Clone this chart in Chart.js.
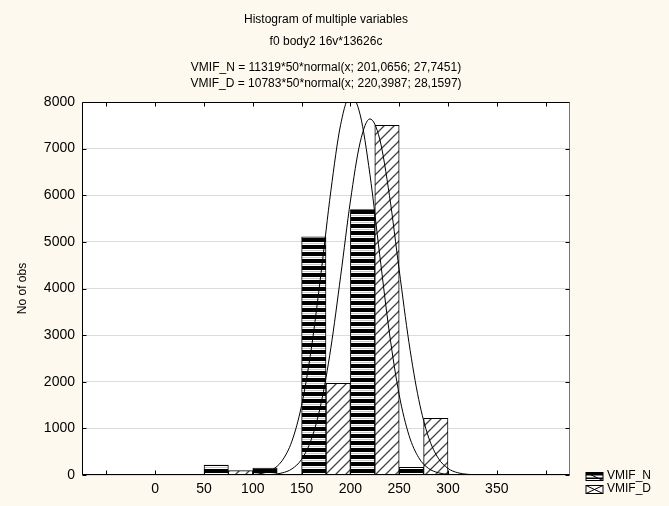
<!DOCTYPE html>
<html><head><meta charset="utf-8">
<script src="https://cdn.jsdelivr.net/npm/chart.js@4.4.1/dist/chart.umd.min.js"></script>
<style>html,body{margin:0;padding:0;background:#FDF9EE;}canvas{display:block;}</style>
</head><body>
<canvas id="c" width="669" height="506"></canvas>
<script>
// ---- data ----
const binCenters = [-25, 25, 75, 125, 175, 225, 275, 325, 375];
const vmifN = [0, 0, 214, 150, 5107, 5693, 164, 0, 8];
const vmifD = [0, 0, 93, 10, 1965, 7500, 1214, 0, 0];
const curveX = [-75, 80, 90, 100, 110, 120, 130, 140, 150, 160, 170, 180, 190, 200, 210, 220, 230, 240, 250, 260, 270, 280, 290, 300, 310, 320, 330, 340, 425];
const curveN = [0, 1, 3, 11, 37, 114, 306, 721, 1494, 2717, 4344, 6096, 7515, 8132, 7727, 6449, 4725, 3042, 1719, 853, 371, 142, 48, 14, 4, 1, 0, 0, 0];
const curveD = [0, 0, 0, 1, 3, 13, 44, 130, 336, 766, 1539, 2729, 4264, 5875, 7136, 7637, 7207, 5995, 4397, 2842, 1620, 814, 361, 141, 48, 15, 4, 1, 0];
const xTickValues = [-50, 0, 50, 100, 150, 200, 250, 300, 350, 400];
const xTickLabels = ['0', '50', '100', '150', '200', '250', '300', '350'];
const yTickValues = [0, 1000, 2000, 3000, 4000, 5000, 6000, 7000, 8000];
const seriesNames = ['VMIF_N', 'VMIF_D'];
const titleLines = ['Histogram of multiple variables', 'f0 body2 16v*13626c'];
const subtitleLines = ['VMIF_N = 11319*50*normal(x; 201,0656; 27,7451)', 'VMIF_D = 10783*50*normal(x; 220,3987; 28,1597)'];

const FONT = 'Arial, "Liberation Sans", sans-serif';

function stripePattern(){
  const c = document.createElement('canvas'); c.width = 4; c.height = 7;
  const g = c.getContext('2d');
  g.fillStyle = '#fff'; g.fillRect(0,0,4,7);
  g.fillStyle = '#000'; g.fillRect(0,0,4,4);
  g.fillStyle = '#c8c8c8'; g.fillRect(0,5,4,1);
  return g.createPattern(c, 'repeat');
}
function hatchPattern(){
  const s = 10;
  const c = document.createElement('canvas'); c.width = s; c.height = s;
  const g = c.getContext('2d');
  g.fillStyle = '#fff'; g.fillRect(0,0,s,s);
  g.strokeStyle = '#444'; g.lineWidth = 1.3;
  g.beginPath();
  g.moveTo(0,s); g.lineTo(s,0);
  g.moveTo(-2,2); g.lineTo(2,-2);
  g.moveTo(s-2,s+2); g.lineTo(s+2,s-2);
  g.stroke();
  return g.createPattern(c, 'repeat');
}

const bgPlugin = {
  id: 'bg',
  beforeDraw(chart){
    const {ctx, chartArea:a} = chart;
    ctx.save();
    ctx.fillStyle = '#FDF9EE'; ctx.fillRect(0,0,chart.width,chart.height);
    ctx.fillStyle = '#fff'; ctx.fillRect(a.left, a.top, a.right-a.left, a.bottom-a.top);
    ctx.restore();
  }
};

const framePlugin = {
  id: 'frame',
  afterDraw(chart){
    const {ctx, chartArea:a, scales} = chart;
    ctx.save();
    ctx.lineWidth = 1;
    ctx.strokeStyle = '#000';
    const L = Math.round(a.left)+0.5, R = Math.round(a.right)-0.5, T = Math.round(a.top)+0.5, B = Math.round(a.bottom)-0.5;
    ctx.beginPath();
    ctx.moveTo(R,T); ctx.lineTo(L,T); ctx.lineTo(L,B); ctx.lineTo(R,B);
    ctx.stroke();
    ctx.strokeStyle = '#777';
    ctx.beginPath(); ctx.moveTo(R,T); ctx.lineTo(R,B); ctx.stroke();
    ctx.strokeStyle = '#000';
    ctx.beginPath();
    scales.x.ticks.forEach(t => {
      const px = Math.round(scales.x.getPixelForValue(t.value))+0.5;
      ctx.moveTo(px,B); ctx.lineTo(px,B-4);
      ctx.moveTo(px,T); ctx.lineTo(px,T+4);
    });
    scales.y.ticks.forEach(t => {
      const py = Math.round(scales.y.getPixelForValue(t.value))+0.5;
      ctx.moveTo(L,py); ctx.lineTo(L+4,py);
      ctx.moveTo(R,py); ctx.lineTo(R-4,py);
    });
    ctx.stroke();
    // legend
    const lx = a.right + 16, ly0 = a.bottom + 1, gap = 13;
    ctx.font = '12px ' + FONT;
    ctx.textBaseline = 'middle';
    ctx.textAlign = 'left';
    seriesNames.forEach((name, i) => {
      const y = ly0 + i*gap;
      const bx = lx, by = Math.round(y - 4)+0.5, bw = 17, bh = 8;
      ctx.fillStyle = '#fff'; ctx.fillRect(bx, by, bw, bh);
      ctx.strokeStyle = '#000'; ctx.lineWidth = 1;
      if (i === 0){
        ctx.fillStyle = '#000';
        ctx.fillRect(bx, by, bw, 3);
        ctx.fillRect(bx, by+5, bw, 1.5);
        ctx.beginPath(); ctx.moveTo(bx, by); ctx.lineTo(bx+bw, by+bh); ctx.stroke();
      } else {
        ctx.beginPath();
        ctx.moveTo(bx, by); ctx.lineTo(bx+bw, by+bh);
        ctx.moveTo(bx, by+bh); ctx.lineTo(bx+bw, by);
        ctx.stroke();
      }
      ctx.strokeRect(bx, by, bw, bh);
      ctx.fillStyle = '#000';
      ctx.fillText(name, bx + bw + 4, y);
    });
    ctx.restore();
  }
};

const ctx = document.getElementById('c').getContext('2d');
new Chart(ctx, {
  type: 'bar',
  data: {
    datasets: [
      { type:'line', label:'fit N', data: curveX.map((x,i)=>({x, y: curveN[i]})), borderColor:'#000', borderWidth:1, pointRadius:0, fill:false, cubicInterpolationMode:'monotone', order:0 },
      { type:'line', label:'fit D', data: curveX.map((x,i)=>({x, y: curveD[i]})), borderColor:'#000', borderWidth:1, pointRadius:0, fill:false, cubicInterpolationMode:'monotone', order:0 },
      { type:'bar', label: seriesNames[0], data: binCenters.map((x,i)=>({x, y: vmifN[i]})), backgroundColor: stripePattern(), borderColor:'#000', borderWidth:1, borderSkipped:'start', categoryPercentage:1, barPercentage:1, order:1 },
      { type:'bar', label: seriesNames[1], data: binCenters.map((x,i)=>({x, y: vmifD[i]})), backgroundColor: hatchPattern(), borderColor:'#000', borderWidth:1, borderSkipped:'start', categoryPercentage:1, barPercentage:1, order:1 }
    ]
  },
  options: {
    responsive: false,
    animation: false,
    devicePixelRatio: 1,
    datasets: { bar: { categoryPercentage: 1, barPercentage: 1 } },
    layout: { padding: { left: 0, right: 99, top: 0, bottom: 0 } },
    plugins: {
      legend: { display: false },
      tooltip: { enabled: false },
      title: { display: true, text: titleLines, fullSize: false, color:'#000', font: { family: FONT, size: 12, weight: 'normal', lineHeight: 22/12 }, padding: { top: 9, bottom: 0 } },
      subtitle: { display: true, text: subtitleLines, fullSize: false, color:'#000', font: { family: FONT, size: 12, weight: 'normal', lineHeight: 16/12 }, padding: { top: 7, bottom: 10 } }
    },
    scales: {
      x: {
        type: 'linear', min: -75, max: 425, offset: false,
        afterBuildTicks: (s) => { s.ticks = xTickValues.map(v => ({ value: v })); },
        ticks: { autoSkip: false, maxRotation: 0, color:'#000', font: { family: FONT, size: 14 }, padding: 6,
          callback: (v) => xTickLabels.includes(String(v)) ? String(v) : '' },
        grid: { display: false, drawTicks: false },
        border: { display: false },
        afterFit: (s) => { s.height = 31; }
      },
      y: {
        min: 0, max: 8000,
        afterBuildTicks: (s) => { s.ticks = yTickValues.map(v => ({ value: v })); },
        ticks: { color:'#000', font: { family: FONT, size: 14 }, padding: 7, callback: (v) => String(v) },
        grid: { color: '#dcdcdc', drawTicks: false },
        border: { display: false },
        title: { display: true, text: 'No of obs', color:'#000', font: { family: FONT, size: 12 }, padding: { top: 15, bottom: 0 } },
        afterFit: (s) => { s.width = 82; }
      }
    }
  },
  plugins: [bgPlugin, framePlugin]
});
</script>
</body></html>
